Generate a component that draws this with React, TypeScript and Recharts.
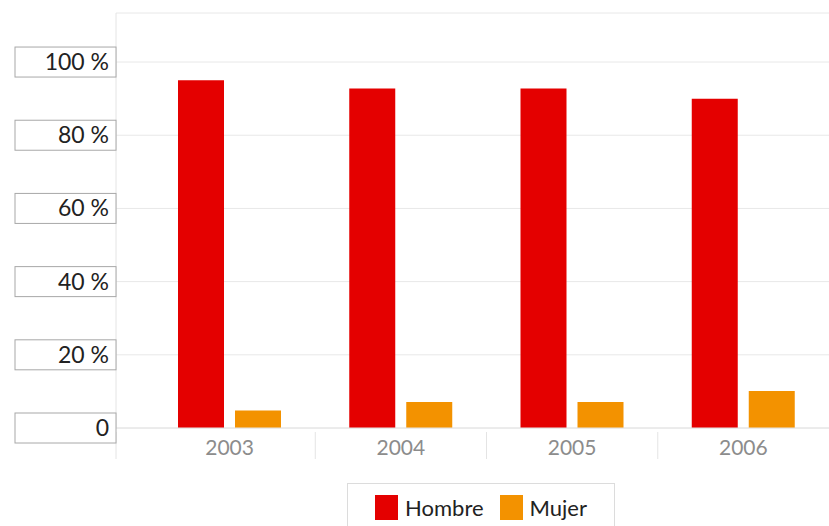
import { Bar, BarChart, CartesianGrid, Legend, XAxis, YAxis } from "recharts";

const years = ["2003", "2004", "2005", "2006"];
const hombre = [95, 92.8, 92.8, 90];
const mujer = [4.8, 7.1, 7.1, 10.1];
const yTicks = [0, 20, 40, 60, 80, 100];

const data = years.map((year, i) => ({ year, hombre: hombre[i], mujer: mujer[i] }));

const RED = "#e40000";
const ORANGE = "#f39200";
const FONT = "Lato, 'Open Sans', sans-serif";

// boxed percentage labels on the left
function YTick(props: any) {
  const { y, payload } = props;
  const label = payload.value === 0 ? "0" : `${payload.value} %`;
  return (
    <g>
      <rect x={15} y={y - 15} width={101} height={30} fill="#fff" stroke="#a8a8a8" strokeWidth={1} />
      <text x={109} y={y} dy={8} textAnchor="end" fontSize={23} fill="#222" fontFamily={FONT}>
        {label}
      </text>
    </g>
  );
}

const BAND = 171.25;

// year labels plus the thin separators between categories
function XTick(props: any) {
  const { x, y, payload, index } = props;
  const top = y - 4;
  return (
    <g>
      {index === 0 && <line x1={x - BAND / 2 - 28} x2={x - BAND / 2 - 28} y1={top} y2={top + 27} stroke="#e4e4e4" />}
      {index < years.length - 1 && <line x1={x + BAND / 2} x2={x + BAND / 2} y1={top} y2={top + 27} stroke="#e4e4e4" />}
      <text x={x} y={top} dy={23} textAnchor="middle" fontSize={21} fill="#8c8c8c" fontFamily={FONT}>
        {payload.value}
      </text>
    </g>
  );
}

function LegendBox() {
  const items = [
    { name: "Hombre", color: RED },
    { name: "Mujer", color: ORANGE },
  ];
  return (
    <div
      style={{
        width: 266,
        height: 46,
        border: "1px solid #dcdcdc",
        display: "flex",
        alignItems: "center",
        justifyContent: "center",
        gap: 16,
        fontFamily: FONT,
        fontSize: 22,
        color: "#222",
        background: "#fff",
      }}
    >
      {items.map((it) => (
        <span key={it.name} style={{ display: "flex", alignItems: "center" }}>
          <span style={{ width: 23, height: 25, background: it.color, marginRight: 7, display: "inline-block" }} />
          {it.name}
        </span>
      ))}
    </div>
  );
}

export default function App() {
  return (
    <div style={{ position: "absolute", left: 0, top: 0, width: 829, height: 526, background: "#fff", overflow: "hidden" }}>
      <BarChart
        width={829}
        height={526}
        data={data}
        margin={{ top: 13, right: 0, left: 0, bottom: 58 }}
        barSize={46}
        barGap={11}
      >
        <CartesianGrid vertical={false} stroke="#e8e8e8" />
        <XAxis
          dataKey="year"
          height={40}
          padding={{ left: 28, right: 0 }}
          axisLine={{ stroke: "#e4e4e4" }}
          tickLine={false}
          tick={<XTick />}
          interval={0}
        />
        <YAxis
          width={116}
          domain={[0, 113.4]}
          ticks={yTicks}
          axisLine={{ stroke: "#e4e4e4" }}
          tickLine={false}
          tick={<YTick />}
          interval={0}
        />
        <Legend
          layout="horizontal"
          verticalAlign="middle"
          wrapperStyle={{ left: 347, top: 483, width: 268 }}
          content={() => <LegendBox />}
        />
        <Bar dataKey="hombre" name="Hombre" fill={RED} isAnimationActive={false} />
        <Bar dataKey="mujer" name="Mujer" fill={ORANGE} isAnimationActive={false} />
      </BarChart>
    </div>
  );
}
